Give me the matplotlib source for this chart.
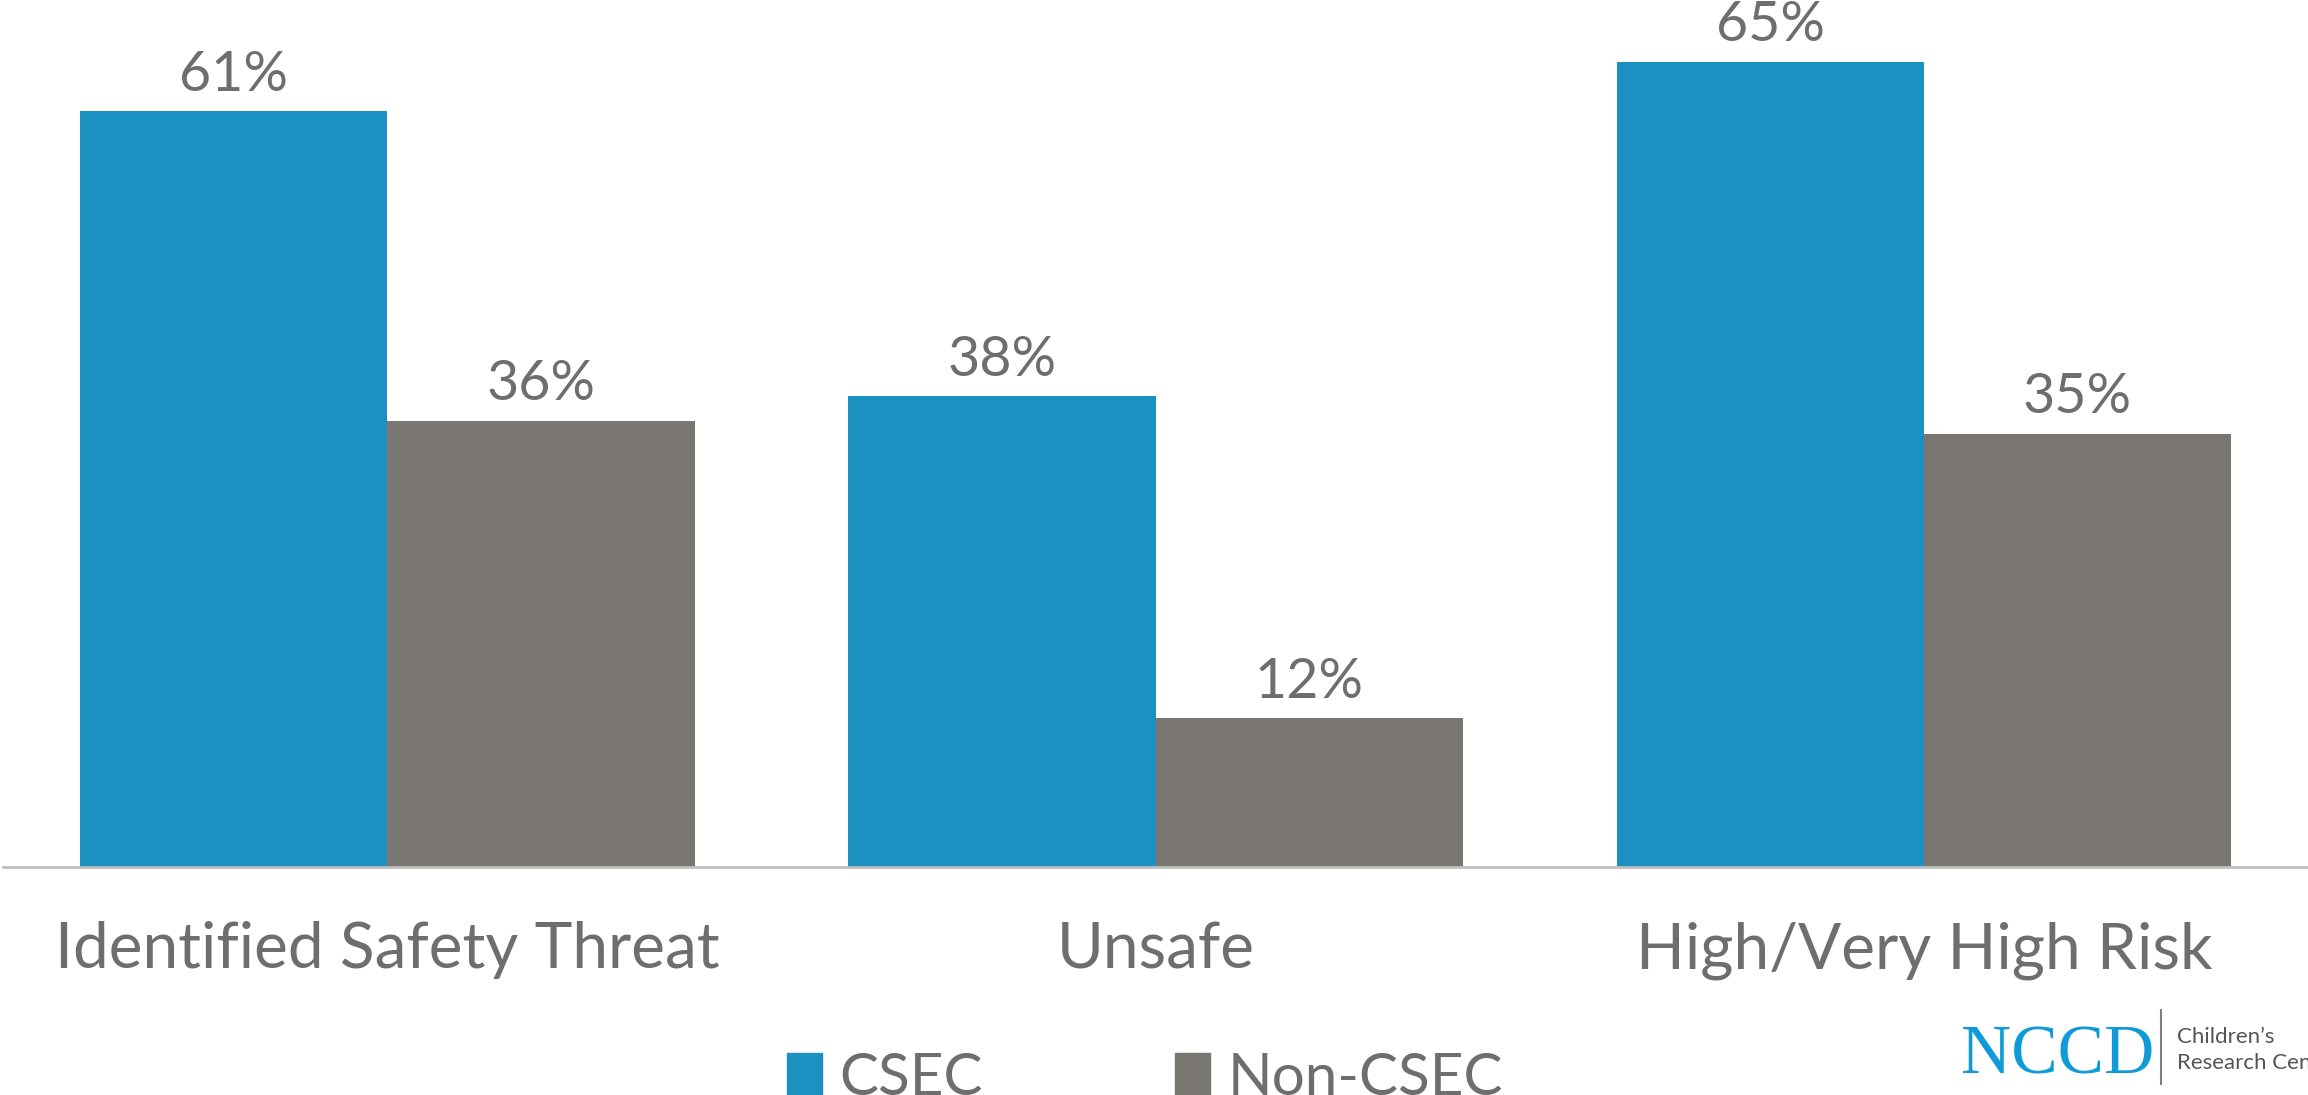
import matplotlib
matplotlib.use("Agg")
import matplotlib.pyplot as plt
from matplotlib.lines import Line2D
from matplotlib.patches import Patch
import numpy as np

# chart data
categories = ["Identified Safety Threat", "Unsafe", "High/Very High Risk"]
csec = [61, 38, 65]
non_csec = [36, 12, 35]
series_names = ["CSEC", "Non-CSEC"]

BLUE = "#1B91C1"
GREY = "#7A7672"
TEXT = "#6E6E6E"

plt.rcParams["font.family"] = ["Lato", "DejaVu Sans"]

fig = plt.figure(figsize=(23.08, 10.95), dpi=100)
ax = fig.add_axes([0.0013, 1 - 867 / 1095, 0.9987, 867 / 1095])

x = np.arange(len(categories))
width = 0.4
b1 = ax.bar(x - width / 2, csec, width, color=BLUE, label=series_names[0])
b2 = ax.bar(x + width / 2, non_csec, width, color=GREY, label=series_names[1])

# value labels
for bars in (b1, b2):
    for rect in bars:
        h = rect.get_height()
        ax.annotate(f"{h:.0f}%", (rect.get_x() + rect.get_width() / 2, h),
                    xytext=(0, 15), textcoords="offset points",
                    ha="center", va="baseline", fontsize=40, color=TEXT)

ax.set_xlim(-0.5, 2.5)
ax.set_ylim(0, 70)
ax.set_yticks([])
ax.set_xticks(x)
ax.set_xticklabels(categories, fontsize=46, color=TEXT)
ax.tick_params(axis="x", length=0, pad=39)
for s in ("top", "right", "left"):
    ax.spines[s].set_visible(False)
ax.spines["bottom"].set_color("#BFBFBF")
ax.spines["bottom"].set_linewidth(2)

# legend at the bottom, partly cut by the figure edge
handles = [Patch(color=BLUE), Patch(color=GREY)]
fig.legend(handles, series_names, loc="upper center",
           bbox_to_anchor=(0.496, 1 - 1052 / 1095), ncol=2, frameon=False,
           fontsize=42, labelcolor=TEXT, handlelength=0.6, handleheight=0.75,
           handletextpad=0.3, columnspacing=3.3, borderpad=0, borderaxespad=0)

# NCCD logo text
fig.text(1961 / 2308, 1 - 1074 / 1095, "NCCD", family="Liberation Serif",
         fontsize=50, color="#0E9BD7", ha="left", va="baseline")
fig.add_artist(Line2D([2161 / 2308, 2161 / 2308], [1 - 1010 / 1095, 1 - 1084 / 1095],
                      color="#7F7F7F", lw=1.5))
fig.text(2177 / 2308, 1 - 1043 / 1095, "Children\u2019s", fontsize=16,
         color="#555555", ha="left", va="baseline")
fig.text(2177 / 2308, 1 - 1069 / 1095, "Research Center", fontsize=16,
         color="#555555", ha="left", va="baseline")

fig.savefig("out.png", dpi=100)
